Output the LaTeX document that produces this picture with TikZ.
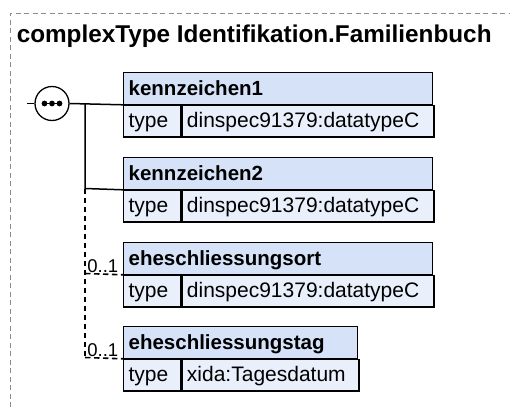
\documentclass[tikz,border=0pt]{standalone}
\usepackage{fontspec}
\setmainfont{Liberation Sans}

\definecolor{hdrblue}{HTML}{D5E2F7}
\definecolor{rowblue}{HTML}{E9F0FB}
\definecolor{framegray}{HTML}{8C8C8C}

\tikzset{
  hdr/.style={draw,line width=1.3pt,fill=hdrblue,anchor=north west,
    inner xsep=5pt,inner ysep=0pt,text width=#1,minimum height=31.5pt,
    text height=16.5pt,text depth=3pt,font=\bfseries\fontsize{20.5}{22}\selectfont},
  tcell/.style={draw,line width=1.3pt,fill=rowblue,anchor=north west,
    inner xsep=5pt,inner ysep=0pt,text width=47pt,minimum height=31.5pt,
    text height=16.5pt,text depth=3pt,font=\fontsize{21}{22}\selectfont},
  vcell/.style={tcell,text width=#1},
  occ/.style={anchor=base east,inner sep=0pt,xshift=-4pt,yshift=2.5pt,
    font=\fontsize{18.5}{20}\selectfont},
  optline/.style={line width=1.6pt,dash pattern=on 5.5pt off 3.5pt}
}

\begin{document}
\begin{tikzpicture}[x=1pt,y=-1pt,line width=1.5pt]
  \useasboundingbox (0,0) rectangle (510,407);

  % frame and title
  \draw[framegray,line width=0.8pt,dash pattern=on 5pt off 3.5pt]
    (10,407) -- (10,13) -- (510,13);
  \node [anchor=base west,inner sep=0pt,font=\bfseries\fontsize{24.3}{26}\selectfont]
    (title) at (16,42) {complexType Identifikation.Familienbuch};

  % elements
  \node [hdr=299pt] (k1) at (123,72) {kennzeichen1};
  \node [tcell] (k1t) at (k1.south west) {type};
  \node [vcell=242pt] (k1v) at (k1t.north east) {dinspec91379:datatypeC};

  \node [hdr=299pt] (k2) at (123,157) {kennzeichen2};
  \node [tcell] (k2t) at (k2.south west) {type};
  \node [vcell=242pt] (k2v) at (k2t.north east) {dinspec91379:datatypeC};

  \node [hdr=299pt] (ort) at (123,242) {eheschliessungsort};
  \node [tcell] (ortt) at (ort.south west) {type};
  \node [vcell=242pt] (ortv) at (ortt.north east) {dinspec91379:datatypeC};

  \node [hdr=224pt] (tag) at (123,326) {eheschliessungstag};
  \node [tcell] (tagt) at (tag.south west) {type};
  \node [vcell=167pt] (tagv) at (tagt.north east) {xida:Tagesdatum};

  % sequence
  \coordinate (in) at (27,103.5);
  \node [circle,draw,fill=white,line width=1.3pt,minimum size=34pt,inner sep=0pt]
    (seq) at (52,103.5) {};
  \draw (in) -- (seq.west);
  \draw (seq.east) -- (k1t.north west);
  \draw[line width=1.3pt] (44.5,103.5) -- (59.5,103.5);
  \foreach \x in {44.5,52,59.5}
    \fill (\x,103.5) circle (2.9pt);

  \coordinate (t1) at (85,103.5);
  \coordinate (t2) at (85,188.5);
  \coordinate (t3) at (85,273.5);
  \coordinate (t4) at (85,357.5);

  \draw (t1) -- (t2) -- (k2t.north west);
  \draw[optline] (t2) -- (t4);
  \draw[optline] (t3) -- (ortt.north west);
  \draw[optline] (t4) -- (tagt.north west);

  \node [occ] (ortocc) at (ortt.north west) {0..1};
  \node [occ] (tagocc) at (tagt.north west) {0..1};
\end{tikzpicture}
\end{document}
